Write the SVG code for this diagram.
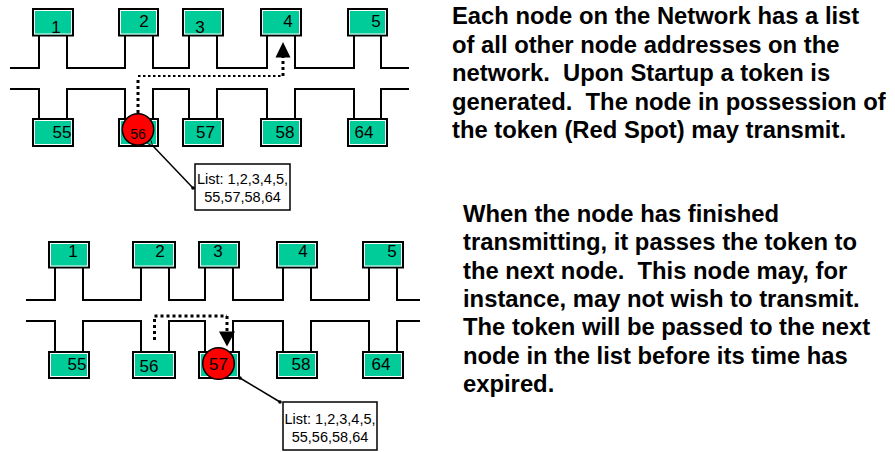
<svg xmlns="http://www.w3.org/2000/svg" width="895" height="452" viewBox="0 0 895 452">
<style>
  text { font-family: "Liberation Sans", Arial, Helvetica, sans-serif; fill: #000; }
  .node rect.box { fill: #00CC99; stroke: #000; stroke-width: 2; }
  .node rect.hl { fill: none; stroke: #fff; stroke-width: 1; }
  .lbl { font-size: 17px; text-anchor: middle; }
  .bus { fill: none; stroke: #000; stroke-width: 2; }
  .token circle { fill: #FF0000; stroke: #000; stroke-width: 1.5; }
  .dots { fill: none; stroke: #000; stroke-width: 3; stroke-dasharray: 3 3; }
  .dotsthin { fill: none; stroke: #000; stroke-width: 2; stroke-dasharray: 2.5 2.5; }
  .call { fill: none; stroke: #000; stroke-width: 1.5; }
  .callbox { fill: #fff; stroke: #000; stroke-width: 1.5; }
  .calltxt { font-size: 14.5px; text-anchor: middle; }
  .para { font-size: 23.8px; font-weight: bold; }
</style>
<defs>
  <marker id="openArrow" viewBox="0 0 10 10" refX="1" refY="5" markerWidth="6" markerHeight="6" orient="auto-start-reverse" markerUnits="userSpaceOnUse">
    <path d="M9,1 L1,5 L9,9" fill="none" stroke="#000" stroke-width="1.5"/>
  </marker>
</defs>
<rect width="895" height="452" fill="#fff"/>

<!-- ===== Top diagram ===== -->
<g id="bus-top" class="bus">
  <path class="bus" d="M10,68 H39 V35 M67,35 V68 H125 V35 M153,35 V68 H189 V35 M217,35 V68 H267 V35 M295,35 V68 H354 V35 M381,35 V68 H409"/>
  <path class="bus" d="M10,89 H39 V119 M67,119 V89 H125 V119 M153,119 V89 H189 V119 M217,119 V89 H267 V119 M295,119 V89 H354 V119 M381,119 V89 H409"/>
</g>

<g id="t-n1" class="node"><rect class="box" x="33" y="9" width="40" height="26.5"/><rect class="hl" x="34.5" y="10.5" width="37" height="23.5"/><text class="lbl" x="56" y="33">1</text></g>
<g id="t-n2" class="node"><rect class="box" x="119" y="9" width="39" height="26.5"/><rect class="hl" x="120.5" y="10.5" width="36" height="23.5"/><text class="lbl" x="144" y="27">2</text></g>
<g id="t-n3" class="node"><rect class="box" x="183" y="9" width="40" height="26.5"/><rect class="hl" x="184.5" y="10.5" width="37" height="23.5"/><text class="lbl" x="200" y="33">3</text></g>
<g id="t-n4" class="node"><rect class="box" x="261" y="9" width="40" height="26.5"/><rect class="hl" x="262.5" y="10.5" width="37" height="23.5"/><text class="lbl" x="288" y="27">4</text></g>
<g id="t-n5" class="node"><rect class="box" x="348" y="9" width="39" height="26.5"/><rect class="hl" x="349.5" y="10.5" width="36" height="23.5"/><text class="lbl" x="376" y="27">5</text></g>

<g id="t-n55" class="node"><rect class="box" x="33" y="119" width="40" height="27"/><rect class="hl" x="34.5" y="120.5" width="37" height="24"/><text class="lbl" x="62" y="138">55</text></g>
<g id="t-n56" class="node"><rect class="box" x="119" y="119" width="39" height="27"/><rect class="hl" x="120.5" y="120.5" width="36" height="24"/></g>
<g id="t-n57" class="node"><rect class="box" x="183" y="119" width="40" height="27"/><rect class="hl" x="184.5" y="120.5" width="37" height="24"/><text class="lbl" x="205.5" y="138">57</text></g>
<g id="t-n58" class="node"><rect class="box" x="261" y="119" width="40" height="27"/><rect class="hl" x="262.5" y="120.5" width="37" height="24"/><text class="lbl" x="285" y="138">58</text></g>
<g id="t-n64" class="node"><rect class="box" x="348" y="119" width="39" height="27"/><rect class="hl" x="349.5" y="120.5" width="36" height="24"/><text class="lbl" x="364" y="138">64</text></g>

<g id="t-token" class="token"><circle cx="138" cy="129.5" r="15.7"/><text x="138" y="139" font-size="14" text-anchor="middle">56</text></g>

<g id="t-callout"><rect class="callbox" x="195" y="164" width="95" height="46"/><text class="calltxt" x="242.5" y="184">List: 1,2,3,4,5,</text><text class="calltxt" x="242.5" y="202">55,57,58,64</text></g>

<g id="connectors-top">
  <path class="dots" d="M138,113 V77"/>
  <path class="dotsthin" d="M138,76 H283"/>
  <path class="dots" d="M283,76 V57"/>
  <polygon points="283,42 275.5,57.5 290.5,57.5" fill="#000"/>
  <path class="call" d="M152.5,145.5 L193,188" marker-start="url(#openArrow)"/>
  <circle cx="193" cy="188" r="1.8" fill="#000"/>
</g>

<!-- ===== Bottom diagram ===== -->
<g id="bus-bottom">
  <path class="bus" d="M26,300 H55 V267 M83,267 V300 H141 V267 M169,267 V300 H205 V267 M233,267 V300 H283 V267 M311,267 V300 H369 V267 M397,267 V300 H420"/>
  <path class="bus" d="M26,321 H55 V352 M83,352 V321 H141 V352 M169,352 V321 H205 V352 M233,352 V321 H283 V352 M311,352 V321 H369 V352 M397,352 V321 H420"/>
</g>

<g id="b-n1" class="node"><rect class="box" x="49" y="242" width="40" height="25.5"/><rect class="hl" x="50.5" y="243.5" width="37" height="22.5"/><text class="lbl" x="73" y="257">1</text></g>
<g id="b-n2" class="node"><rect class="box" x="133" y="242" width="42" height="25.5"/><rect class="hl" x="134.5" y="243.5" width="39" height="22.5"/><text class="lbl" x="160" y="257">2</text></g>
<g id="b-n3" class="node"><rect class="box" x="199" y="242" width="40" height="25.5"/><rect class="hl" x="200.5" y="243.5" width="37" height="22.5"/><text class="lbl" x="218" y="257">3</text></g>
<g id="b-n4" class="node"><rect class="box" x="277" y="242" width="40" height="25.5"/><rect class="hl" x="278.5" y="243.5" width="37" height="22.5"/><text class="lbl" x="303" y="257">4</text></g>
<g id="b-n5" class="node"><rect class="box" x="363" y="242" width="40" height="25.5"/><rect class="hl" x="364.5" y="243.5" width="37" height="22.5"/><text class="lbl" x="392" y="257">5</text></g>

<g id="b-n55" class="node"><rect class="box" x="49" y="352" width="40" height="26"/><rect class="hl" x="50.5" y="353.5" width="37" height="23"/><text class="lbl" x="77" y="370">55</text></g>
<g id="b-n56" class="node"><rect class="box" x="133" y="352" width="42" height="26"/><rect class="hl" x="134.5" y="353.5" width="39" height="23"/><text class="lbl" x="149" y="371.5">56</text></g>
<g id="b-n57" class="node"><rect class="box" x="199" y="352" width="40" height="26"/><rect class="hl" x="200.5" y="353.5" width="37" height="23"/></g>
<g id="b-n58" class="node"><rect class="box" x="277" y="352" width="40" height="26"/><rect class="hl" x="278.5" y="353.5" width="37" height="23"/><text class="lbl" x="301" y="370">58</text></g>
<g id="b-n64" class="node"><rect class="box" x="363" y="352" width="40" height="26"/><rect class="hl" x="364.5" y="353.5" width="37" height="23"/><text class="lbl" x="381" y="370">64</text></g>

<g id="b-token" class="token"><circle cx="218.5" cy="363.5" r="15.8"/><text x="218.5" y="370" font-size="17" text-anchor="middle">57</text></g>

<g id="b-callout"><rect class="callbox" x="283" y="402" width="94" height="48"/><text class="calltxt" x="330" y="424">List: 1,2,3,4,5,</text><text class="calltxt" x="330" y="442">55,56,58,64</text></g>

<g id="connectors-bottom">
  <path class="dots" d="M154.5,340 V316"/>
  <path class="dots" d="M154.5,316 H227"/>
  <path class="dots" d="M227,316 V332"/>
  <polygon points="227,346.5 219,331.5 235,331.5" fill="#000"/>
  <path class="call" d="M240,378 L280,402"/>
  <circle cx="240" cy="378" r="1.8" fill="#000"/>
  <circle cx="280" cy="402" r="1.8" fill="#000"/>
</g>

<!-- ===== Descriptions ===== -->
<g id="desc-top">
  <text class="para" x="452" y="24" xml:space="preserve">Each node on the Network has a list</text>
  <text class="para" x="452" y="52.5" xml:space="preserve">of all other node addresses on the</text>
  <text class="para" x="452" y="81" xml:space="preserve">network.  Upon Startup a token is</text>
  <text class="para" x="452" y="109.5" xml:space="preserve">generated.  The node in possession of</text>
  <text class="para" x="452" y="138" xml:space="preserve">the token (Red Spot) may transmit.</text>
</g>
<g id="desc-bottom">
  <text class="para" x="463" y="222" xml:space="preserve">When the node has finished</text>
  <text class="para" x="463" y="250.3" xml:space="preserve">transmitting, it passes the token to</text>
  <text class="para" x="463" y="278.6" xml:space="preserve">the next node.  This node may, for</text>
  <text class="para" x="463" y="306.9" xml:space="preserve">instance, may not wish to transmit.</text>
  <text class="para" x="463" y="335.2" xml:space="preserve">The token will be passed to the next</text>
  <text class="para" x="463" y="363.5" xml:space="preserve">node in the list before its time has</text>
  <text class="para" x="463" y="391.8" xml:space="preserve">expired.</text>
</g>
</svg>
